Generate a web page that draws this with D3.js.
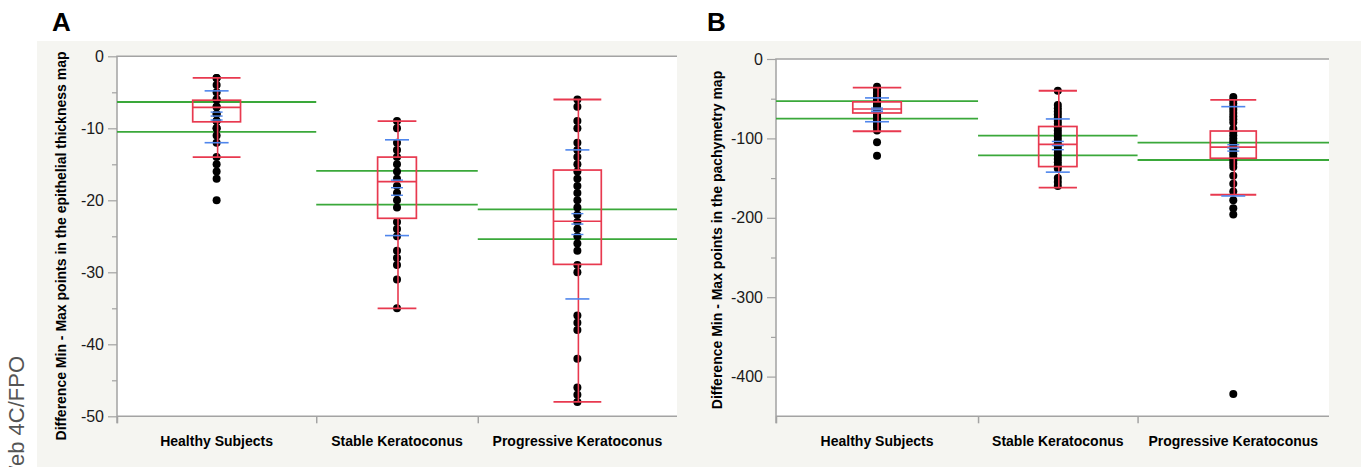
<!DOCTYPE html>
<html>
<head>
<meta charset="utf-8">
<script src="https://d3js.org/d3.v7.min.js"></script>
<style>
body { margin: 0; background: #fff; }
svg { display: block; font-family: "Liberation Sans", Arial, Helvetica, sans-serif; }
</style>
</head>
<body>
<svg class="main" width="1361" height="467"></svg>
<script>
var groups = ["Healthy Subjects", "Stable Keratoconus", "Progressive Keratoconus"];

/**
 * A: epithelial thickness map
 */
var epiTicks = [0, -10, -20, -30, -40, -50];
var epiN = [37, 30, 37]; // x axis proportional to group size
var epiPoints = [
    [-3, -3, -4, -5, -6, -6, -7, -7, -8, -8, -9, -9, -10, -10, -11, -12, -14, -15, -16, -17, -20],
    [-9, -10, -12, -13, -14, -15, -16, -17, -18, -19, -20, -21, -23, -24, -25, -27, -28, -29, -31, -35],
    [-6, -7, -9, -10, -12, -13, -14, -15, -16, -17, -18, -19, -20, -21, -22, -23, -24, -25, -26, -27,
        -29, -30, -36, -37, -38, -42, -46, -47, -48]
];
var epiHi = [-3, -9, -6];
var epiQ3 = [-6.1, -14, -15.8];
var epiMedian = [-7.1, -17.4, -22.9];
var epiQ1 = [-9.1, -22.5, -28.9];
var epiLo = [-14, -35, -48];
var epiMean = [-8.3, -18.25, -23.3];
var epiSe = [0.55, 1.05, 1.45];
var epiSdHi = [-4.8, -11.6, -13];
var epiSdLo = [-12, -24.9, -33.7];
var epiCiHi = [-6.35, -15.9, -21.25];
var epiCiLo = [-10.5, -20.6, -25.4];

/**
 * B: pachymetry map
 */
var pachyTicks = [0, -100, -200, -300, -400];
var pachyN = [38, 30, 36];
var pachyPoints = [
    [-35, -38, -42, -45, -48, -50, -52, -54, -56, -58, -60, -62, -64, -66, -68, -70, -72, -75, -78,
        -80, -83, -86, -90, -105, -122],
    [-40, -58, -62, -66, -70, -74, -78, -82, -86, -90, -94, -98, -102, -106, -110, -114, -118, -122,
        -126, -130, -134, -138, -150, -155, -160],
    [-48, -52, -56, -60, -64, -68, -72, -76, -80, -88, -92, -96, -100, -104, -108, -112, -116, -120,
        -124, -128, -132, -136, -147, -157, -167, -178, -188, -196, -422]
];
var pachyHi = [-36, -40, -51.5];
var pachyQ3 = [-54, -85, -90.7];
var pachyMedian = [-63, -107.5, -111];
var pachyQ1 = [-68, -135.5, -125];
var pachyLo = [-91, -162, -171];
var pachyMean = [-64, -109, -112];
var pachySe = [2.2, 5.2, 4];
var pachySdHi = [-49, -75.5, -60];
var pachySdLo = [-79, -142.5, -172.5];
var pachyCiHi = [-53, -96.5, -105.4];
var pachyCiLo = [-75, -121.3, -127.2];

var colors = {
    red: "#e8394f",
    green: "#3aa83a",
    blue: "#4f86ec",
    axis: "#a3a3a3",
    panel: "#f5f5f1"
};

var main = d3.select(".main");

// light gray frame behind both panels
main.append("rect")
    .attr("x", 37).attr("y", 41)
    .attr("width", 1361 - 37).attr("height", 467 - 41)
    .attr("fill", colors.panel);

// cut off at the page edge, as in the source figure
main.append("text")
    .attr("transform", "translate(24,356) rotate(-90)")
    .attr("text-anchor", "end")
    .attr("font-size", 22)
    .attr("fill", "#555")
    .text("Web 4C/FPO");

function drawPanel(p) {
    var g = main.append("g");

    var y = d3.scaleLinear().domain(p.domain).range([p.bottom, p.top]);

    var cum = [0];
    p.n.forEach(function(d, i) {
        cum.push(cum[i] + d);
    });
    var x = d3.scaleLinear().domain([0, d3.sum(p.n)]).range([p.left, p.right]);

    var bands = groups.map(function(name, i) {
        var x0 = x(cum[i]),
            x1 = x(cum[i + 1]);
        return {
            name: name,
            i: i,
            x0: x0,
            x1: x1,
            cx: (x0 + x1) / 2,
            bw: (x1 - x0) * 0.24
        };
    });

    g.append("rect")
        .attr("x", p.left).attr("y", p.top)
        .attr("width", p.right - p.left).attr("height", p.bottom - p.top)
        .attr("fill", "#fff");

    // panel letter
    main.append("text")
        .attr("x", p.letterX).attr("y", 31)
        .attr("font-size", 26)
        .attr("font-weight", "bold")
        .text(p.letter);

    /**
     * Axes
     */
    var minor = p.ticks.slice(0, -1).map(function(d, i) {
        return (d + p.ticks[i + 1]) / 2;
    });

    g.append("g")
        .attr("transform", "translate(" + p.left + ",0)")
        .call(d3.axisLeft(y).tickValues(minor).tickSize(5).tickSizeOuter(0).tickFormat(""))
        .call(function(s) { s.select(".domain").remove(); });

    var yAxis = g.append("g")
        .attr("transform", "translate(" + p.left + ",0)")
        .call(d3.axisLeft(y).tickValues(p.ticks).tickSize(9).tickPadding(4).tickSizeOuter(0)
            .tickFormat(function(d) { return String(d); }));
    yAxis.select(".domain").remove();
    yAxis.selectAll("text")
        .attr("font-size", 16)
        .attr("fill", "#1a1a1a")
        .attr("font-family", "\"Liberation Sans\", Arial, sans-serif");

    g.selectAll(".tick line").attr("stroke", colors.axis).attr("stroke-width", 1.2);

    var xAxis = g.append("g")
        .attr("transform", "translate(0," + p.bottom + ")")
        .call(d3.axisBottom(x).tickValues(cum.slice(0, 3)).tickSize(7).tickSizeOuter(0).tickFormat(""));
    xAxis.select(".domain").remove();
    xAxis.selectAll(".tick line").attr("stroke", colors.axis).attr("stroke-width", 1.5);

    // frame: left, top, bottom
    g.append("path")
        .attr("d", "M" + p.right + "," + p.top + "H" + p.left + "V" + (p.bottom + 7) +
            "M" + p.left + "," + p.bottom + "H" + p.right)
        .attr("fill", "none")
        .attr("stroke", colors.axis)
        .attr("stroke-width", 1.5);

    g.append("text")
        .attr("transform", "translate(" + p.titleX + "," + p.titleY + ") rotate(-90)")
        .attr("text-anchor", "middle")
        .attr("font-size", 14)
        .attr("font-weight", "bold")
        .text(p.title);

    g.selectAll(".cat")
        .data(bands)
        .enter()
        .append("text")
        .attr("class", "cat")
        .attr("x", function(d) { return d.cx; })
        .attr("y", 446)
        .attr("text-anchor", "middle")
        .attr("font-size", 14)
        .attr("font-weight", "bold")
        .text(function(d) { return d.name; });

    /**
     * Marks
     */
    function hline(sel, cls, color, width, yv, x0, x1) {
        sel.append("line")
            .attr("class", cls)
            .attr("x1", x0).attr("x2", x1)
            .attr("y1", y(yv)).attr("y2", y(yv))
            .attr("stroke", color)
            .attr("stroke-width", width);
    }

    bands.forEach(function(b) {
        var gg = g.append("g"),
            i = b.i;

        // mean CI lines across the group width
        hline(gg, "ci", colors.green, 1.8, p.ciHi[i], b.x0, b.x1);
        hline(gg, "ci", colors.green, 1.8, p.ciLo[i], b.x0, b.x1);

        gg.selectAll("circle")
            .data(p.points[i])
            .enter()
            .append("circle")
            .attr("cx", b.cx)
            .attr("cy", function(d) { return y(d); })
            .attr("r", 4)
            .attr("fill", "#000");

        // box plot
        gg.append("rect")
            .attr("x", b.cx - b.bw / 2)
            .attr("y", y(p.q3[i]))
            .attr("width", b.bw)
            .attr("height", y(p.q1[i]) - y(p.q3[i]))
            .attr("fill", "none")
            .attr("stroke", colors.red)
            .attr("stroke-width", 1.7);
        hline(gg, "med", colors.red, 1.6, p.median[i], b.cx - b.bw / 2, b.cx + b.bw / 2);
        hline(gg, "cap", colors.red, 1.8, p.hi[i], b.cx - b.bw / 2, b.cx + b.bw / 2);
        hline(gg, "cap", colors.red, 1.8, p.lo[i], b.cx - b.bw / 2, b.cx + b.bw / 2);
        [[p.hi[i], p.q3[i]], [p.q1[i], p.lo[i]]].forEach(function(w) {
            gg.append("line")
                .attr("x1", b.cx + 1).attr("x2", b.cx + 1)
                .attr("y1", y(w[0])).attr("y2", y(w[1]))
                .attr("stroke", colors.red)
                .attr("stroke-width", 1.6);
        });

        // std dev lines and mean error bars
        hline(gg, "sd", colors.blue, 1.6, p.sdHi[i], b.cx - 12, b.cx + 12);
        hline(gg, "sd", colors.blue, 1.6, p.sdLo[i], b.cx - 12, b.cx + 12);
        [p.mean[i] + p.se[i], p.mean[i], p.mean[i] - p.se[i]].forEach(function(v) {
            hline(gg, "se", colors.blue, 1.4, v, b.cx - 6, b.cx + 6);
        });
    });
}

drawPanel({
    letter: "A",
    letterX: 52,
    left: 117,
    right: 677,
    top: 56.3,
    bottom: 416.3,
    domain: [-50, 0],
    ticks: epiTicks,
    n: epiN,
    title: "Difference Min - Max points in the epithelial thickness map",
    titleX: 66,
    titleY: 246,
    points: epiPoints,
    hi: epiHi, q3: epiQ3, median: epiMedian, q1: epiQ1, lo: epiLo,
    mean: epiMean, se: epiSe, sdHi: epiSdHi, sdLo: epiSdLo,
    ciHi: epiCiHi, ciLo: epiCiLo
});

drawPanel({
    letter: "B",
    letterX: 707,
    left: 776,
    right: 1329,
    top: 59,
    bottom: 416.3,
    domain: [-450, 0],
    ticks: pachyTicks,
    n: pachyN,
    title: "Difference Min - Max points in the pachymetry map",
    titleX: 722,
    titleY: 240,
    points: pachyPoints,
    hi: pachyHi, q3: pachyQ3, median: pachyMedian, q1: pachyQ1, lo: pachyLo,
    mean: pachyMean, se: pachySe, sdHi: pachySdHi, sdLo: pachySdLo,
    ciHi: pachyCiHi, ciLo: pachyCiLo
});
</script>
</body>
</html>
